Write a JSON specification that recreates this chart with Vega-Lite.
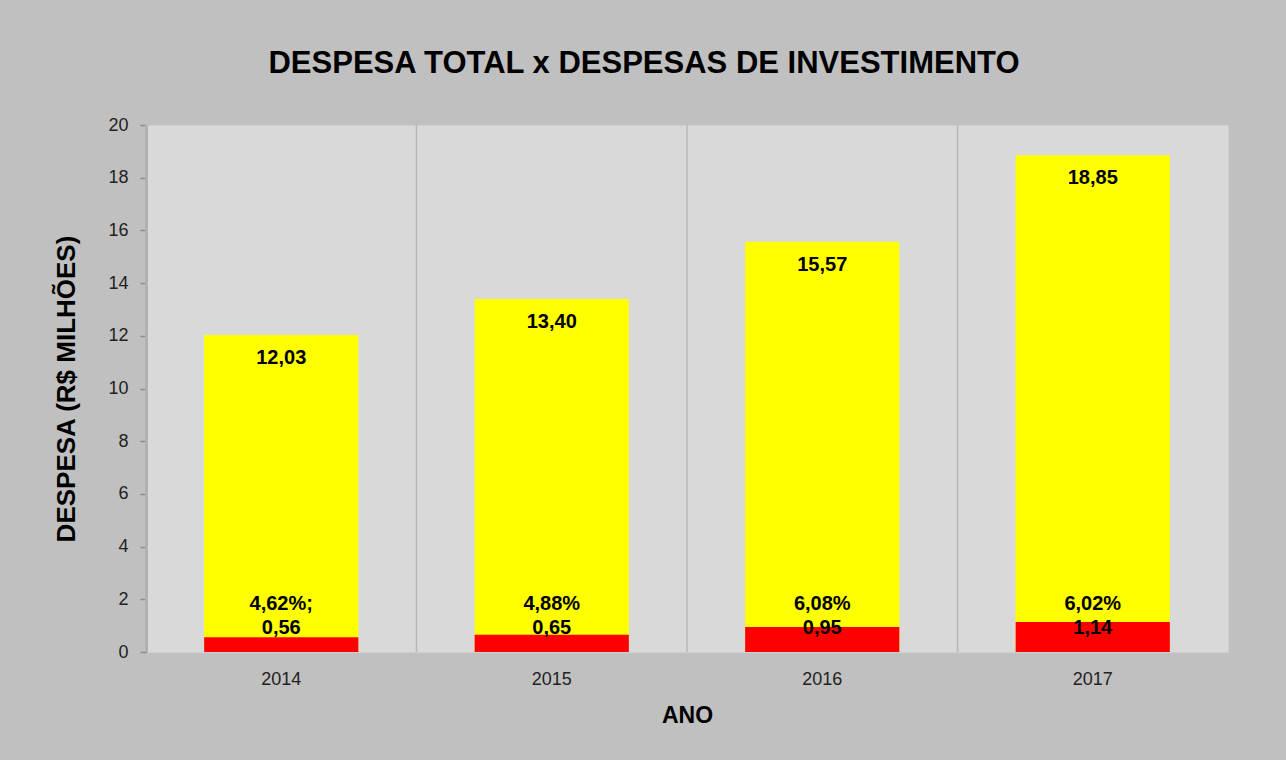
{
  "$schema": "https://vega.github.io/schema/vega-lite/v6.json",
  "width": 1082,
  "height": 527,
  "autosize": {"type": "none"},
  "padding": {"left": 146, "top": 125, "right": 58, "bottom": 108},
  "background": "#c0c0c0",
  "title": {
    "text": "DESPESA TOTAL x DESPESAS DE INVESTIMENTO",
    "font": "Liberation Sans",
    "fontSize": 31,
    "fontWeight": "bold",
    "color": "#000000",
    "anchor": "middle",
    "dx": -43,
    "offset": 12,
    "baseline": "alphabetic"
  },
  "data": {
    "values": [
      {"ano": "2014", "total": 12.03, "invest": 0.56, "totalLabel": "12,03", "investLabel": "0,56", "pctLabel": "4,62%;"},
      {"ano": "2015", "total": 13.40, "invest": 0.65, "totalLabel": "13,40", "investLabel": "0,65", "pctLabel": "4,88%"},
      {"ano": "2016", "total": 15.57, "invest": 0.95, "totalLabel": "15,57", "investLabel": "0,95", "pctLabel": "6,08%"},
      {"ano": "2017", "total": 18.85, "invest": 1.14, "totalLabel": "18,85", "investLabel": "1,14", "pctLabel": "6,02%"}
    ]
  },
  "encoding": {
    "x": {
      "field": "ano",
      "type": "ordinal",
      "scale": {"paddingInner": 0, "paddingOuter": 0},
      "axis": {
        "title": "ANO",
        "titleFont": "Liberation Sans",
        "titleFontSize": 23,
        "titleFontWeight": "bold",
        "titleColor": "#000000",
        "titlePadding": 16,
        "labelFont": "Liberation Sans",
        "labelFontSize": 18,
        "labelColor": "#222222",
        "labelAngle": 0,
        "labelPadding": 18,
        "ticks": false,
        "domain": false,
        "grid": false
      }
    }
  },
  "layer": [
    {
      "mark": {"type": "rule", "color": "#b8b8b8", "strokeWidth": 1.5},
      "encoding": {
        "x": {"field": "ano", "type": "ordinal", "bandPosition": 0},
        "y": {"datum": 0},
        "y2": {"datum": 20}
      }
    },
    {
      "mark": {"type": "bar", "color": "#ffff00", "width": {"band": 0.57}},
      "encoding": {
        "y": {
          "field": "total",
          "type": "quantitative",
          "scale": {"domain": [0, 20], "nice": false},
          "axis": {
            "title": "DESPESA (R$ MILHÕES)",
            "titleFont": "Liberation Sans",
            "titleFontSize": 26,
            "titleFontWeight": "bold",
            "titleColor": "#000000",
            "titlePadding": 28,
            "values": [0, 2, 4, 6, 8, 10, 12, 14, 16, 18, 20],
            "labelFont": "Liberation Sans",
            "labelFontSize": 18,
            "labelColor": "#222222",
            "labelPadding": 12,
            "tickSize": 6,
            "tickColor": "#8c8c8c",
            "tickWidth": 1.5,
            "domainColor": "#8c8c8c",
            "domainWidth": 2,
            "gridColor": "#b8b8b8",
            "gridWidth": 1.5
          }
        }
      }
    },
    {
      "mark": {"type": "bar", "color": "#ff0000", "width": {"band": 0.57}},
      "encoding": {
        "y": {"field": "invest", "type": "quantitative"}
      }
    },
    {
      "mark": {"type": "text", "font": "Liberation Sans", "fontSize": 20, "fontWeight": "bold", "color": "#000000", "baseline": "middle", "dy": 23},
      "encoding": {
        "y": {"field": "total", "type": "quantitative"},
        "text": {"field": "totalLabel"}
      }
    },
    {
      "mark": {"type": "text", "font": "Liberation Sans", "fontSize": 20, "fontWeight": "bold", "color": "#000000", "baseline": "middle", "dy": -48},
      "encoding": {
        "y": {"datum": 0},
        "text": {"field": "pctLabel"}
      }
    },
    {
      "mark": {"type": "text", "font": "Liberation Sans", "fontSize": 20, "fontWeight": "bold", "color": "#000000", "baseline": "middle", "dy": -24},
      "encoding": {
        "y": {"datum": 0},
        "text": {"field": "investLabel"}
      }
    }
  ],
  "config": {
    "view": {"fill": "#d9d9d9", "stroke": "#cfcfcf"},
    "axis": {"domainCap": "butt"}
  }
}
